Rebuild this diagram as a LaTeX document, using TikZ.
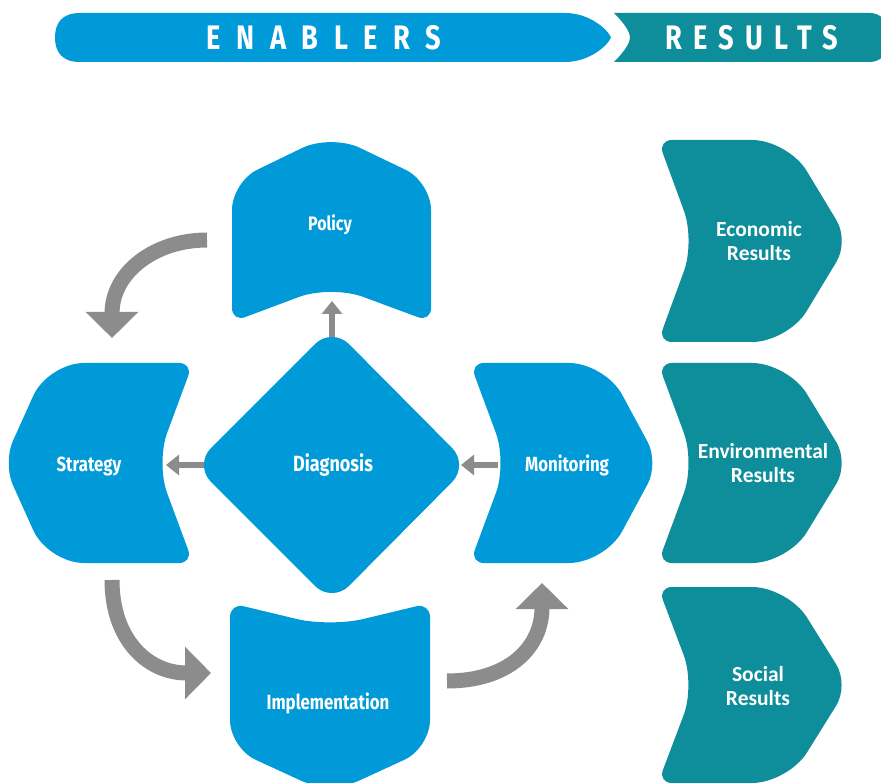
\documentclass[tikz,border=0pt]{standalone}
\usepackage{fontspec}
\usetikzlibrary{arrows.meta}
\newfontfamily\condfont[FakeStretch=0.82]{Fira Sans}
\newfontfamily\headfont[FakeStretch=0.8,LetterSpace=46]{Fira Sans}
\newfontfamily\headfontb[FakeStretch=0.8,LetterSpace=33]{Fira Sans}
\setmainfont{Carlito}
\definecolor{enblue}{HTML}{009AD9}
\definecolor{resteal}{HTML}{0E8E9B}
\definecolor{arrgray}{HTML}{8C8C8C}
\tikzset{
  enshape/.style={fill=enblue,draw=none},
  resshape/.style={fill=resteal,draw=none},
  entext/.style={text=white,font=\condfont\bfseries\fontsize{20.5}{24}\selectfont,align=center},
  restext/.style={text=white,font=\bfseries\fontsize{21.5}{24}\selectfont,align=center},
  headtext/.style={text=white,font=\headfont\bfseries\fontsize{34}{36}\selectfont},
  headtextb/.style={text=white,font=\headfontb\bfseries\fontsize{34}{36}\selectfont},
  bigarrow/.style={draw=arrgray,line width=15pt,-{Triangle[width=51pt,length=26pt]}},
  smallarrow/.style={draw=arrgray,line width=6pt,-{Triangle[width=20pt,length=13pt]}}
}
\begin{document}
\begin{tikzpicture}[x=1pt,y=-1pt]
\useasboundingbox (0,0) rectangle (881,783);
\fill[white] (0,0) rectangle (881,783);
% header bars
\fill[enblue] (80,62) .. controls (62,62) and (55,52) .. (55,37.5) .. controls (55,23) and (62,13) .. (80,13)
  -- (565,13) .. controls (590,13) and (608,30) .. (611,37.5) .. controls (608,45) and (590,62) .. (565,62) -- cycle;
\fill[resteal] (614,13) [rounded corners=18pt] -- (888,13) -- (888,62) [sharp corners] -- (614,62)
  .. controls (626,50) and (630,42) .. (630,37.5) .. controls (630,33) and (626,25) .. (614,13) -- cycle;
\node[headtext] (enab) at (324,38) {ENABLERS};
\node[headtextb] (resu) at (752,38) {RESULTS};
% Policy (up chevron)
\fill[enshape] [rounded corners=14pt] (232,322) [rounded corners=28pt] -- (232,182) [rounded corners=32pt] -- (331,134) [rounded corners=28pt] -- (431,182) [rounded corners=14pt] -- (431,322) [rounded corners=34pt] -- (331,285) [rounded corners=14pt] -- cycle;
% Implementation (down chevron)
\fill[enshape] [rounded corners=14pt] (230,603) [rounded corners=34pt] -- (330,627) [rounded corners=14pt] -- (430,603) [rounded corners=28pt] -- (430,748) [rounded corners=32pt] -- (330,794) [rounded corners=28pt] -- (230,748) [rounded corners=14pt] -- cycle;
% Strategy (left chevron)
\fill[enshape] [rounded corners=14pt] (193,363) [rounded corners=36pt] -- (48,363) [rounded corners=24pt] -- (3,463) [rounded corners=36pt] -- (48,563) [rounded corners=14pt] -- (193,563) [rounded corners=32pt] -- (156,463) [rounded corners=14pt] -- cycle;
% Monitoring (right chevron)
\fill[enshape] [rounded corners=14pt] (470,363) [rounded corners=36pt] -- (605,363) [rounded corners=24pt] -- (659,463) [rounded corners=36pt] -- (605,563) [rounded corners=14pt] -- (470,563) [rounded corners=32pt] -- (507,463) [rounded corners=14pt] -- cycle;
% Diagnosis diamond
\fill[enshape] [rounded corners=24pt] (332,327) -- (469,465) -- (332,603) -- (194,465) -- cycle;
% Results chevrons
\fill[resshape] [rounded corners=14pt] (658,140) [rounded corners=36pt] -- (788,140) [rounded corners=24pt] -- (849,241) [rounded corners=36pt] -- (788,342) [rounded corners=14pt] -- (658,342) [rounded corners=32pt] -- (695,241) [rounded corners=14pt] -- cycle;
\fill[resshape] [rounded corners=14pt] (658,363) [rounded corners=36pt] -- (788,363) [rounded corners=24pt] -- (849,463) [rounded corners=36pt] -- (788,563) [rounded corners=14pt] -- (658,563) [rounded corners=32pt] -- (695,463) [rounded corners=14pt] -- cycle;
\fill[resshape] [rounded corners=14pt] (658,587) [rounded corners=36pt] -- (788,587) [rounded corners=24pt] -- (849,685) [rounded corners=36pt] -- (788,783) [rounded corners=14pt] -- (658,783) [rounded corners=32pt] -- (695,685) [rounded corners=14pt] -- cycle;
% labels
\node[entext,font=\condfont\bfseries\fontsize{19.5}{23}\selectfont] (policy) at (330,225) {Policy};
\node[entext,font=\condfont\bfseries\fontsize{22}{26}\selectfont] (diag) at (333,465) {Diagnosis};
\node[entext] (strat) at (89,466) {Strategy};
\node[entext] (monit) at (567,465) {Monitoring};
\node[entext] (impl) at (328,703) {Implementation};
\node[restext] (econ) at (759,241) {Economic\\Results};
\node[restext] (envi) at (763,463) {Environmental\\Results};
\node[restext] (soci) at (758,686) {Social\\Results};
% connector anchors
\coordinate (diagT) at (332,337);
\coordinate (policyB) at (332,301);
\coordinate (diagL) at (204,465);
\coordinate (stratR) at (166,465);
\coordinate (monitL) at (498,465);
\coordinate (diagR) at (461,465);
\coordinate (policyL) at (207,240);
\coordinate (stratT) at (112,338);
\coordinate (stratB) at (112,580);
\coordinate (implL) at (211,673);
\coordinate (implR) at (447,681);
\coordinate (monitB) at (542,583);
% small arrows
\draw[smallarrow] (diagT) -- (policyB);
\draw[smallarrow] (diagL) -- (stratR);
\draw[smallarrow] (monitL) -- (diagR);
% big curved arrows
\draw[bigarrow] (policyL) .. controls (155,240) and (112,272) .. (stratT);
\draw[bigarrow] (stratB) .. controls (112,640) and (148,673) .. (implL);
\draw[bigarrow] (implR) .. controls (508,681) and (542,648) .. (monitB);
\end{tikzpicture}
\end{document}
